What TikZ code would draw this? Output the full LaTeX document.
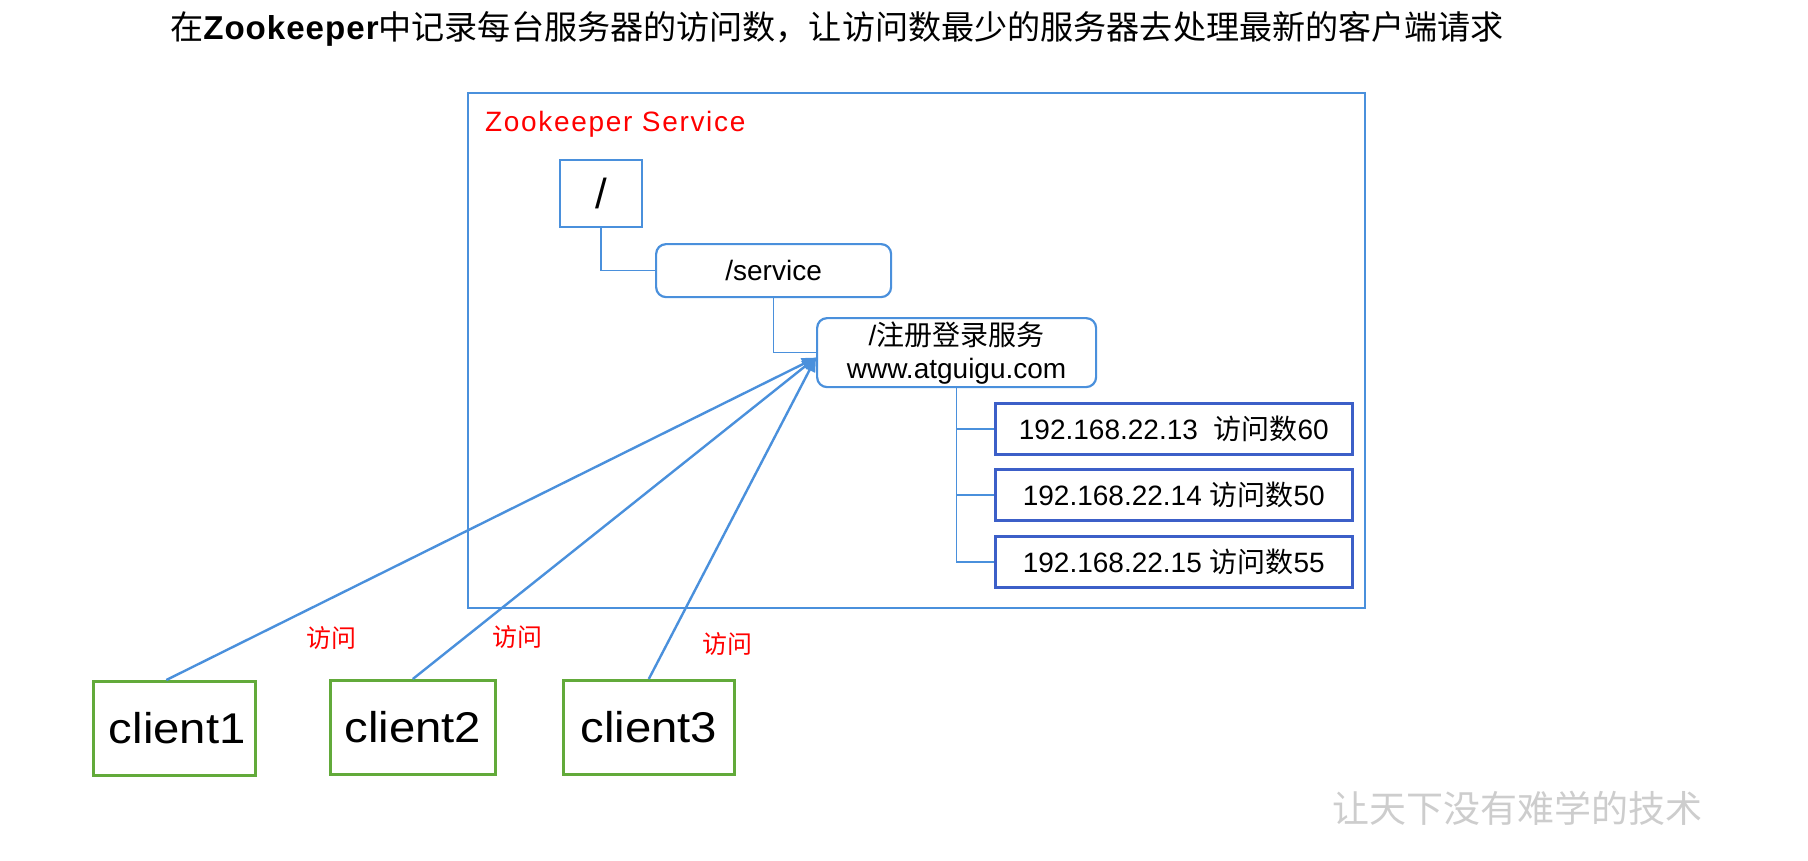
\documentclass[tikz,border=0pt]{standalone}
\usepackage{fontspec}
\setmainfont{Liberation Sans}
\newfontfamily\cjk{Noto Sans CJK SC}
\newfontfamily\zkfont{Liberation Sans}[LetterSpace=6]
\newfontfamily\zkbold{Liberation Sans Bold}[LetterSpace=3]
\usetikzlibrary{arrows.meta,positioning}
\definecolor{lineblue}{RGB}{74,144,220}
\definecolor{ipblue}{RGB}{60,95,200}
\definecolor{cgreen}{RGB}{98,170,58}
\definecolor{wmgray}{RGB}{205,205,205}
\tikzset{
  px/.style={x=1pt,y=-1pt},
  nbox/.style={draw=lineblue,line width=2.2pt,anchor=north west,inner sep=0pt,align=center},
  rbox/.style={nbox,rounded corners=10pt},
  ipbox/.style={draw=ipblue,line width=2.6pt,anchor=north west,inner sep=0pt,minimum width=357pt,minimum height=51pt,font=\fontsize{28}{32}\selectfont},
  clientbox/.style={draw=cgreen,line width=2.6pt,anchor=north west,inner sep=0pt,minimum height=94pt,font=\fontsize{43}{46}\selectfont},
  tree/.style={draw=lineblue,line width=1.6pt},
  visit/.style={draw=lineblue,line width=2.4pt,-{Triangle[length=14pt,width=12pt]}},
  redlbl/.style={text=red,font=\cjk\fontsize{25}{28}\selectfont,inner sep=0pt}
}
\begin{document}
\begin{tikzpicture}[px]
\useasboundingbox (0,0) rectangle (1808,860);
% title
\node[anchor=west,inner sep=0pt,font=\fontsize{33.1}{40}\selectfont] (title) at (170,29)
  {{\cjk 在}{\zkbold Zookeeper}{\cjk 中记录每台服务器的访问数，让访问数最少的服务器去处理最新的客户端请求}};
% outer service box
\node[nbox,minimum width=897pt,minimum height=515pt] (svc) at (467,92) {};
\node[anchor=west,inner sep=0pt,text=red,font=\zkfont\fontsize{28}{32}\selectfont] (svclbl) at (485,124) {Zookeeper Service};
% tree nodes
\node[nbox,minimum width=82pt,minimum height=67pt,font=\fontsize{42}{44}\selectfont] (root) at (559,159) {/};
\node[rbox,minimum width=235pt,minimum height=53pt,font=\fontsize{28}{32}\selectfont] (service) at (655,243) {/service};
\node[rbox,minimum width=279pt,minimum height=69pt,font=\fontsize{28}{33}\selectfont] (reg) at (816,317) {\raisebox{-5pt}{/{\cjk 注册登录服务}}\\\raisebox{-5pt}{www.atguigu.com}};
\node[ipbox] (ip1) at (994,402) {192.168.22.13\ \ {\cjk 访问数}60};
\node[ipbox] (ip2) at (994,468) {192.168.22.14 {\cjk 访问数}50};
\node[ipbox] (ip3) at (994,535) {192.168.22.15 {\cjk 访问数}55};
\draw[tree] (root.south) |- (service.west);
\draw[tree] (service.south) |- (reg.west);
\draw[tree] (reg.south) |- (ip1.west);
\draw[tree] (reg.south) |- (ip2.west);
\draw[tree] (reg.south) |- (ip3.west);
% clients
\node[clientbox,minimum width=162pt] (c1) at (92,680) {\hspace{6pt}\scalebox{1.1}[1]{client1}};
\node[clientbox,minimum width=165pt] (c2) at (329,679) {\scalebox{1.1}[1]{client2}};
\node[clientbox,minimum width=171pt] (c3) at (562,679) {\scalebox{1.1}[1]{client3}};
\coordinate (hit) at ([yshift=-5pt]reg.west);
\draw[visit] ([xshift=-8pt]c1.north) -- (hit);
\draw[visit] (c2.north) -- (hit);
\draw[visit] (c3.north) -- (hit);
\node[redlbl] (v1) at (331,638) {访问};
\node[redlbl] (v2) at (517,637) {访问};
\node[redlbl] (v3) at (727,644) {访问};
% watermark
\node[anchor=west,inner sep=0pt,text=wmgray,font=\cjk\fontsize{37}{40}\selectfont] (wm) at (1332,808) {让天下没有难学的技术};
\end{tikzpicture}
\end{document}
